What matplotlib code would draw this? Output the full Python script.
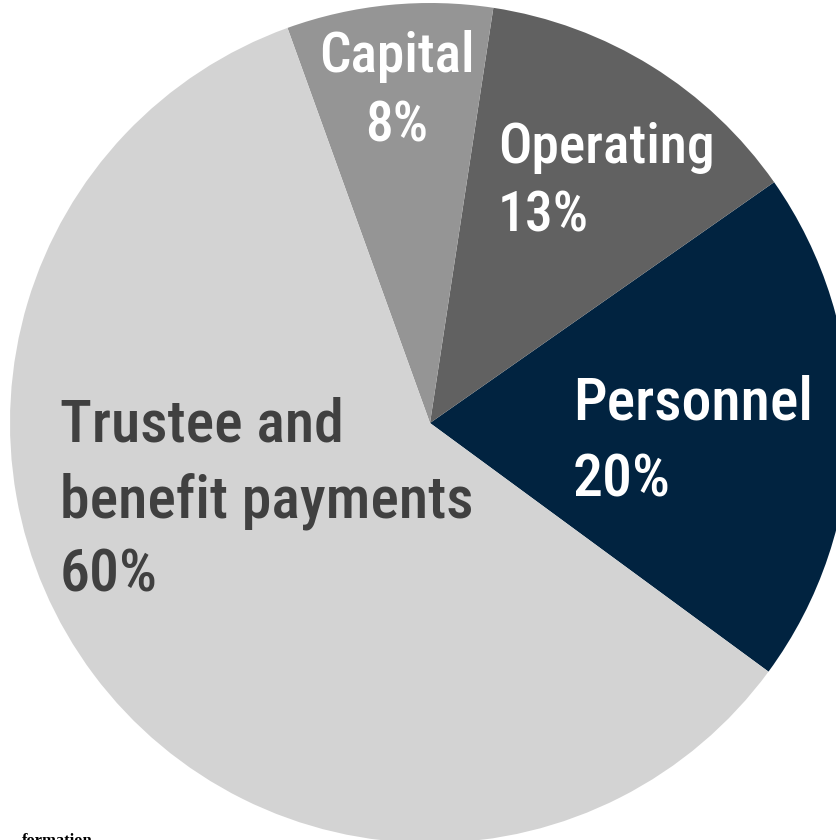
import matplotlib.pyplot as plt
from matplotlib import font_manager as fm

# spending shares (percent)
categories = ["Personnel", "Operating", "Capital", "Trustee and\nbenefit payments"]
shares = [20, 13, 8, 60]
slice_colors = ["#012340", "#616161", "#959595", "#d3d3d3"]
text_colors = ["white", "white", "white", "#404040"]


def pick_font():
    # want a narrow sans for the labels; take the best one installed,
    # medium weight if there is one, else regular
    prefs = ["roboto", "noto sans", "open sans", "liberation sans narrow",
             "dejavu sans"]
    found = {}
    for f in fm.fontManager.ttflist:
        if f.style != "normal":
            continue
        w = {"normal": 400, "regular": 400, "medium": 500}.get(f.weight, f.weight)
        if w not in (400, 500):
            continue
        name = f.name.lower()
        narrow = ("narrow" in name or "condensed" in name
                  or str(f.stretch) in ("condensed", "semi-condensed"))
        if not narrow:
            continue
        for p in prefs:
            if name.startswith(p):
                if p not in found or (w == 500 and found[p][0] != 500):
                    found[p] = (w, f.fname)
    for p in prefs:
        if p in found:
            return fm.FontProperties(fname=found[p][1])
    return fm.FontProperties(family="Roboto")


def main():
    fig = plt.figure(figsize=(8.37, 8.40), dpi=100)
    ax = fig.add_axes([0, 0, 1, 1])

    # pie laid out in pixel units so it can run off the right/bottom edge
    ax.pie(shares, colors=slice_colors, startangle=-36.3, radius=420,
           center=(430, 417), counterclock=True,
           wedgeprops=dict(linewidth=0))
    ax.set_xlim(0, 837)
    ax.set_ylim(0, 840)
    ax.set_aspect("equal")
    ax.axis("off")

    font = pick_font()

    # x, first baseline (px from top), line gap, alignment, font size
    spots = [
        (573, 420, 77, "left", 43),
        (498, 163, 69, "left", 40),
        (397, 72, 70, "center", 40),
        (60, 442, 75, "left", 43),
    ]
    for name, pct, col, (x, top, gap, ha, size) in zip(categories, shares,
                                                      text_colors, spots):
        lines = name.split("\n") + [f"{pct}%"]
        for i, line in enumerate(lines):
            ax.text(x, 840 - (top + i * gap), line, ha=ha, va="baseline",
                    color=col, fontproperties=font, fontsize=size)

    # bit of a logo caption peeking in at the bottom
    ax.text(22, -5, "formation", fontsize=12, family="Liberation Serif",
            fontweight="bold", color="black", ha="left", va="baseline")

    fig.savefig("out.png", dpi=100)


if __name__ == '__main__':
    main()
